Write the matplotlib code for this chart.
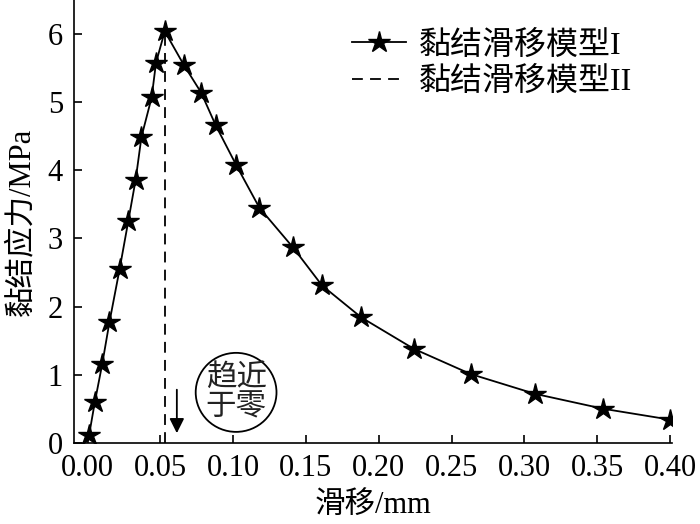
import matplotlib
matplotlib.use('Agg')
import matplotlib.pyplot as plt
from matplotlib.patches import Ellipse

plt.rcParams['font.family'] = ['Liberation Serif', 'Noto Sans CJK SC']
plt.rcParams['font.size'] = 22

# bond-slip model I
slip = [0.001, 0.005, 0.010, 0.015, 0.022, 0.028, 0.033, 0.037, 0.044, 0.047, 0.053,
        0.066, 0.078, 0.088, 0.102, 0.118, 0.141, 0.161, 0.188, 0.224, 0.263, 0.307, 0.354, 0.400]
stress = [0.11, 0.60, 1.15, 1.77, 2.55, 3.26, 3.86, 4.49, 5.07, 5.58, 6.04,
          5.55, 5.14, 4.66, 4.08, 3.45, 2.87, 2.31, 1.84, 1.38, 1.01, 0.72, 0.50, 0.34]

# model II: drops at peak slip
peak_slip = 0.053
peak_stress = 6.04

x_ticks = [0.00, 0.05, 0.10, 0.15, 0.20, 0.25, 0.30, 0.35, 0.40]
x_labels = ['0.00', '0.05', '0.10', '0.15', '0.20', '0.25', '0.30', '0.35', '0.40']
y_ticks = [0, 1, 2, 3, 4, 5, 6]

fig = plt.figure(figsize=(7, 5.24), dpi=100)
ax = fig.add_axes([0.106, 0.155, 0.854, 0.845])

ax.plot(slip, stress, color='black', lw=1.3, marker='*', markersize=16,
        label='黏结滑移模型I')
ax.plot([peak_slip, peak_slip], [0, peak_stress], color='black', lw=1.3,
        linestyle=(0, (6, 4)), label='黏结滑移模型II', zorder=1)

ax.annotate('', xy=(0.0613, 0.10), xytext=(0.0613, 0.82),
            arrowprops=dict(arrowstyle='-|>', color='black', lw=1.3, mutation_scale=22))

ax.add_patch(Ellipse((0.102, 0.74), 0.0555, 1.16, fill=False, ec='black', lw=1.3))
ax.text(0.102, 0.73, '趋近\n于零', ha='center', va='center', fontsize=22,
        linespacing=1.0, color='#222222')

ax.set_xlim(-0.0092, 0.4014)
ax.set_ylim(0, 6.5)
ax.set_xticks(x_ticks)
ax.set_xticklabels(x_labels)
ax.set_yticks(y_ticks)
ax.tick_params(direction='in', length=6, width=1.2, pad=8)

ax.spines['top'].set_visible(False)
ax.spines['right'].set_visible(False)
ax.spines['left'].set_linewidth(1.2)
ax.spines['bottom'].set_linewidth(1.2)

ax.set_xlabel('滑移/mm', labelpad=6)
ax.set_ylabel('黏结应力/MPa', labelpad=8)

ax.legend(loc='upper right', bbox_to_anchor=(0.955, 0.96), frameon=False, fontsize=23,
          handlelength=1.7, handletextpad=0.4, labelspacing=0.2, borderaxespad=0)

fig.savefig('out.png', dpi=100)
